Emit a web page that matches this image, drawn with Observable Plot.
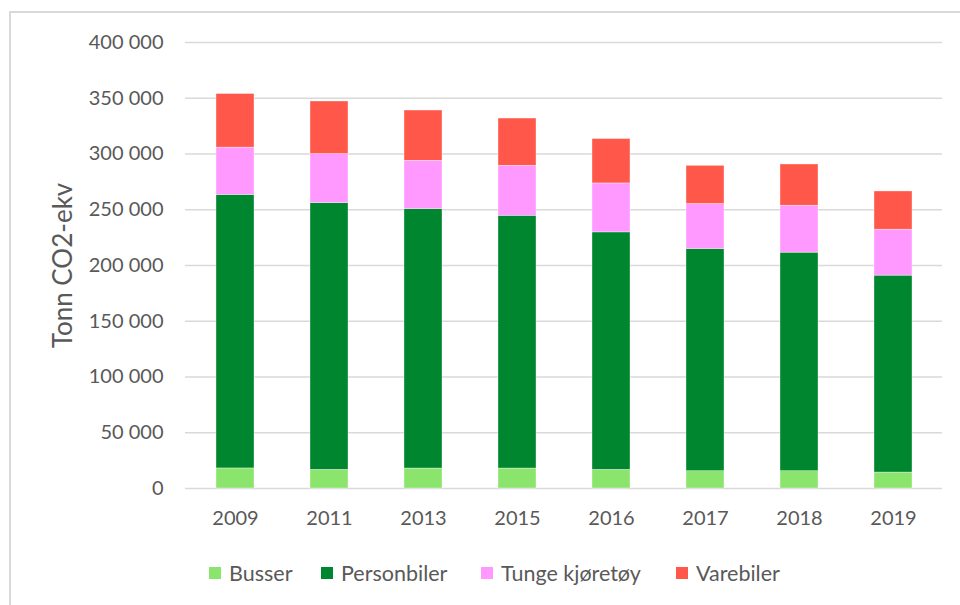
<!DOCTYPE html>
<html>
<head>
<meta charset="utf-8">
<script src="https://cdn.jsdelivr.net/npm/d3@7"></script>
<script src="https://cdn.jsdelivr.net/npm/@observablehq/plot@0.6"></script>
<style>
  html, body { margin: 0; padding: 0; background: #fff; }
  body { width: 960px; height: 605px; position: relative; overflow: hidden; font-family: Lato, "Open Sans", sans-serif; }
  #border { position: absolute; left: 9px; top: 11px; width: 1000px; height: 700px;
            border-left: 2px solid #d9d9d9; border-top: 2px solid #d9d9d9; }
  #chart { position: absolute; left: 0; top: 0; }
  #legend { position: absolute; left: 0; top: 540px; width: 960px; height: 65px; }
  .item { position: absolute; top: 20px; display: flex; align-items: center; font-size: 21.5px; color: #595959; }
  .sw { width: 12px; height: 12px; margin-right: 8px; }
</style>
</head>
<body>
<div id="border"></div>
<div id="chart"></div>
<div id="legend"></div>
<script>
const years = ["2009", "2011", "2013", "2015", "2016", "2017", "2018", "2019"];
const seriesNames = ["Busser", "Personbiler", "Tunge kjøretøy", "Varebiler"];
const seriesColors = ["#8be46b", "#00862e", "#ff99ff", "#ff584a"];
const busser      = [18000, 16700, 17900, 17900, 16700, 15500, 15500, 14300];
const personbiler = [245300, 239300, 232700, 226700, 213000, 199300, 196000, 176600];
const tunge       = [42400, 43900, 43300, 44800, 43900, 40300, 42100, 41200];
const varebiler   = [48100, 47200, 45100, 42400, 39800, 34300, 37000, 34300];
const yTicks = [0, 50000, 100000, 150000, 200000, 250000, 300000, 350000, 400000];
const yLabel = "Tonn CO2-ekv";

const seriesValues = [busser, personbiler, tunge, varebiler];
const data = [];
seriesNames.forEach((s, i) => {
  years.forEach((y, j) => data.push({year: y, series: s, value: seriesValues[i][j]}));
});

const fmt = d => d3.format(",")(d).replace(/,/g, " ");

const chart = Plot.plot({
  width: 960,
  height: 540,
  marginLeft: 185,
  marginRight: 18,
  marginTop: 42,
  marginBottom: 52,
  style: {fontFamily: "Lato, 'Open Sans', sans-serif", fontSize: "20px", color: "#595959", background: "transparent"},
  x: {domain: years, paddingInner: 0.6, paddingOuter: 0.3, label: null, tickSize: 0, tickPadding: 22},
  y: {domain: [0, 400000], ticks: yTicks, tickFormat: fmt, label: null, tickSize: 0, tickPadding: 22},
  color: {domain: seriesNames, range: seriesColors},
  marks: [
    Plot.ruleY(yTicks, {stroke: "#d9d9d9", strokeWidth: 1.5}),
    Plot.barY(data, Plot.stackY({x: "year", y: "value", fill: "series", stroke: "#ffffff", strokeWidth: 0.6, strokeOpacity: 0.6})),
    Plot.text([yLabel], {frameAnchor: "left", text: d => d, rotate: -90, textAnchor: "middle", dx: -122, fill: "#595959", fontSize: 26})
  ]
});
document.getElementById("chart").appendChild(chart);

const legend = document.getElementById("legend");
const lefts = [209, 321, 481, 676];
seriesNames.forEach((s, i) => {
  const it = document.createElement("div");
  it.className = "item";
  it.style.left = lefts[i] + "px";
  const sw = document.createElement("div");
  sw.className = "sw";
  sw.style.background = seriesColors[i];
  const t = document.createElement("span");
  t.textContent = s;
  it.appendChild(sw); it.appendChild(t);
  legend.appendChild(it);
});
</script>
</body>
</html>
